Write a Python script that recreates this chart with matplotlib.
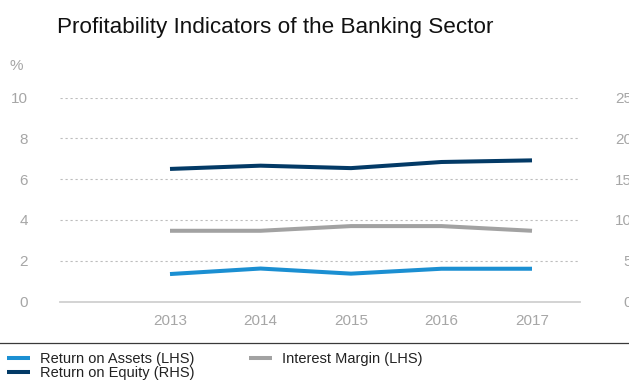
import matplotlib
matplotlib.use("Agg")
import matplotlib.pyplot as plt
from matplotlib.lines import Line2D

plt.rcParams["font.family"] = ["Liberation Sans", "DejaVu Sans"]

years = [2013, 2014, 2015, 2016, 2017]
return_on_assets = [1.35, 1.62, 1.37, 1.61, 1.61]      # LHS, %
interest_margin = [3.47, 3.47, 3.70, 3.70, 3.47]       # LHS, %
return_on_equity = [16.25, 16.65, 16.35, 17.10, 17.30]  # RHS, %

left_ticks = [0, 2, 4, 6, 8, 10]
right_ticks = [0, 5, 10, 15, 20, 25]

title = "Profitability Indicators of the Banking Sector"
unit_label = "%"
label_roa = "Return on Assets (LHS)"
label_roe = "Return on Equity (RHS)"
label_im = "Interest Margin (LHS)"

c_roa = "#1b8fd2"
c_roe = "#033a66"
c_im = "#a2a2a2"
c_tick = "#a6a6a6"
c_grid = "#bdbdbd"

W, H = 629, 380
fig = plt.figure(figsize=(W / 100, H / 100), dpi=100)

def fx(px):
    return px / W

def fy(py):
    return 1 - py / H

ax_left, ax_right = 60, 580
ax_top, ax_bottom = 97.5, 301.6
ax = fig.add_axes([fx(ax_left), fy(ax_bottom), fx(ax_right - ax_left), (ax_bottom - ax_top) / H])
ax2 = ax.twinx()

lw = 2.9
ax.plot(years, return_on_assets, color=c_roa, lw=lw, solid_capstyle="butt", solid_joinstyle="round", zorder=3)
ax.plot(years, interest_margin, color=c_im, lw=lw, solid_capstyle="butt", solid_joinstyle="round", zorder=3)
ax2.plot(years, return_on_equity, color=c_roe, lw=lw, solid_capstyle="butt", solid_joinstyle="round", zorder=3)

step = 90.5
ax.set_xlim(years[0] - (170 - ax_left) / step, years[-1] + (ax_right - 532) / step)
ax.set_ylim(left_ticks[0], left_ticks[-1])
ax2.set_ylim(right_ticks[0], right_ticks[-1])

ax.set_xticks(years)
ax.set_xticklabels([str(y) for y in years])
ax.set_yticks(left_ticks)
ax.set_yticklabels([str(t) for t in left_ticks])
ax2.set_yticks(right_ticks)
ax2.set_yticklabels([str(t) for t in right_ticks])

ax.tick_params(axis="x", length=0, pad=9, labelsize=11, labelcolor=c_tick)
ax.tick_params(axis="y", length=0, pad=23, labelsize=11, labelcolor=c_tick)
ax2.tick_params(axis="y", length=0, pad=37.5, labelsize=11, labelcolor=c_tick)
for lab in ax2.get_yticklabels():
    lab.set_horizontalalignment("right")

for t in left_ticks[1:]:
    ax.axhline(t, color=c_grid, lw=0.8, ls=(0, (2, 2.5)), zorder=1)

for a in (ax, ax2):
    for side in ("top", "left", "right"):
        a.spines[side].set_visible(False)
ax2.spines["bottom"].set_visible(False)
ax.spines["bottom"].set_color("#d0d0d0")
ax.spines["bottom"].set_linewidth(1.3)
ax.patch.set_visible(False)

fig.text(fx(57.3), fy(33), title, fontsize=16.2, color="#111111", va="baseline", ha="left")
fig.text(fx(10), fy(66), unit_label, fontsize=11, color=c_tick, va="center", ha="left")

fig.add_artist(Line2D([0, 1], [fy(343.3), fy(343.3)], transform=fig.transFigure, color="#3a3a3a", lw=0.9))

handles = [
    Line2D([], [], color=c_roa, lw=lw, solid_capstyle="butt"),
    Line2D([], [], color=c_roe, lw=lw, solid_capstyle="butt"),
    Line2D([], [], color=c_im, lw=lw, solid_capstyle="butt"),
]
fig.legend(handles, [label_roa, label_roe, label_im], ncol=2, loc="upper left",
           bbox_to_anchor=(fx(7), fy(352)), frameon=False, fontsize=10.5,
           handlelength=1.58, handletextpad=0.65, columnspacing=3.8,
           labelspacing=0.02, borderpad=0, borderaxespad=0, labelcolor="#222222")

fig.savefig("out.png", dpi=100)
